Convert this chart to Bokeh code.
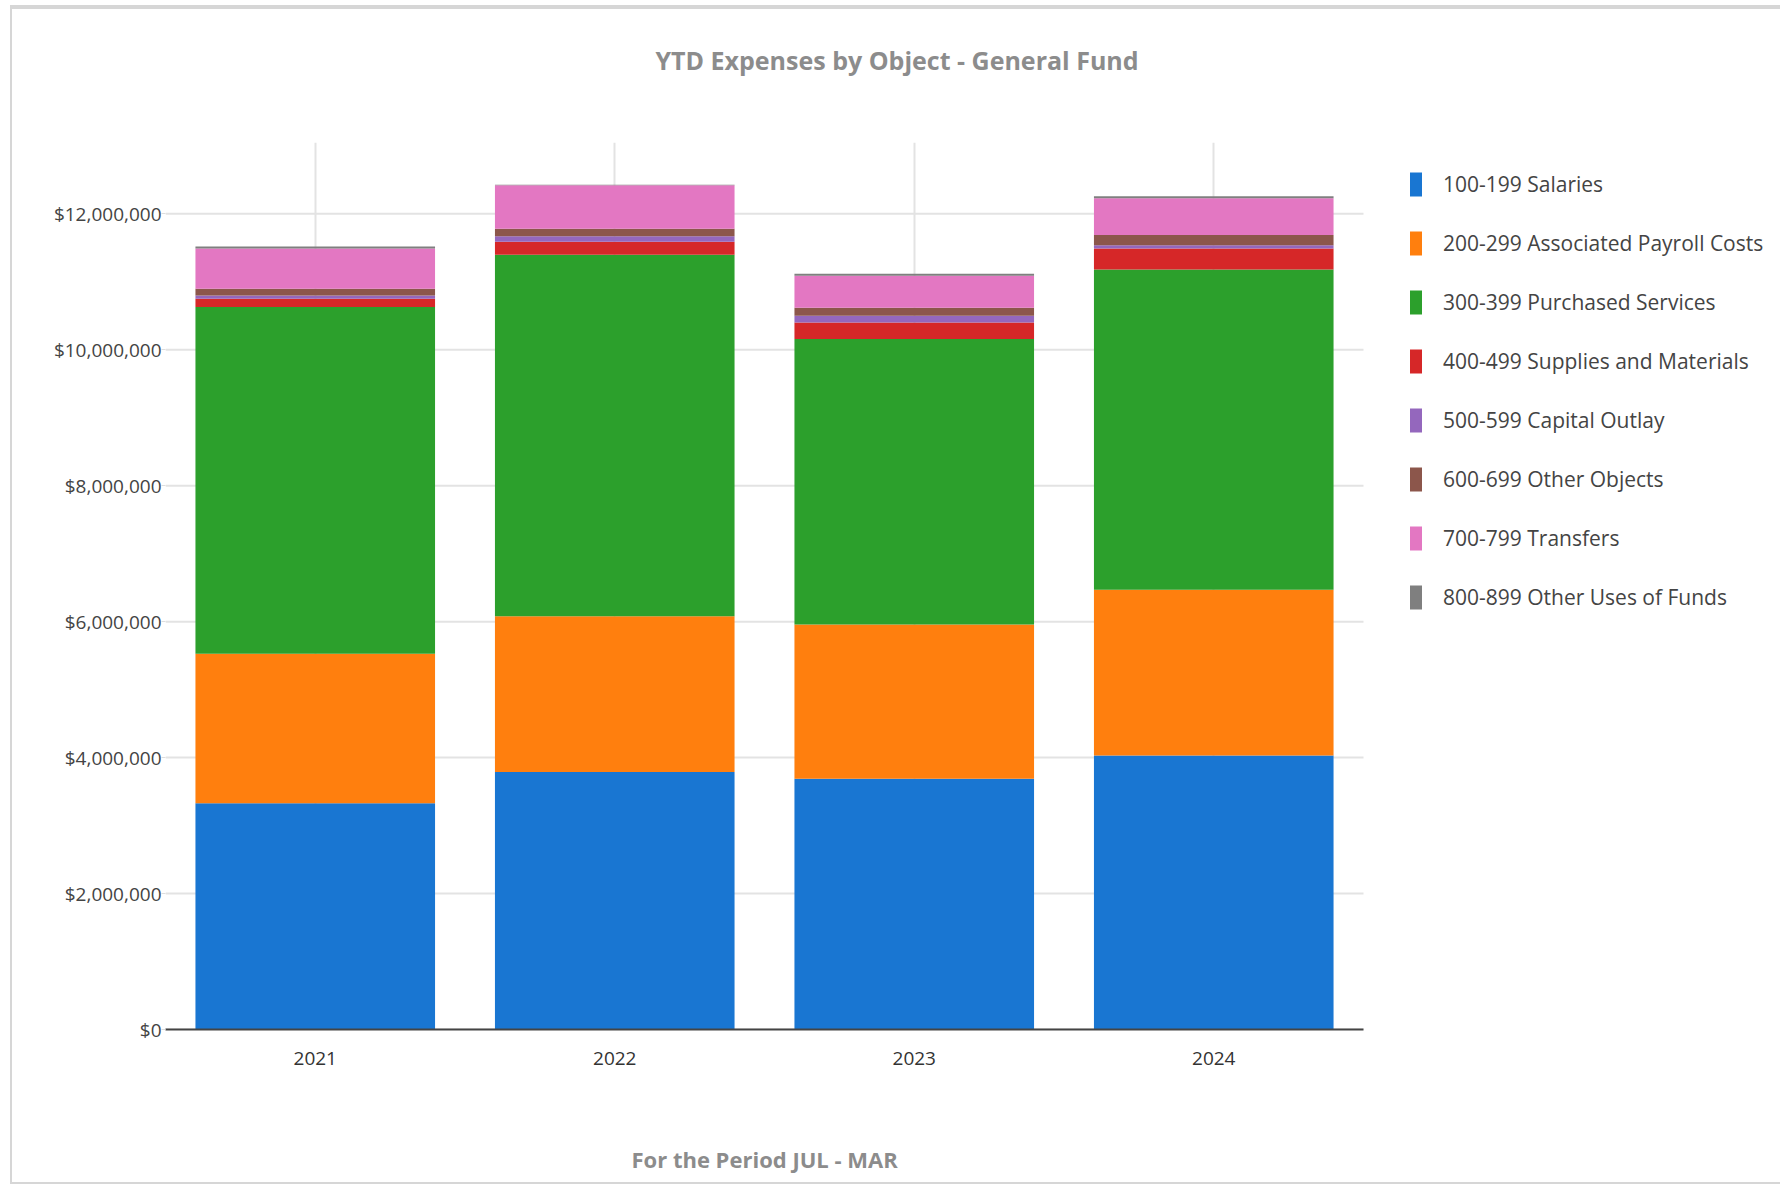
from bokeh.plotting import figure
from bokeh.models import (ColumnDataSource, Range1d, FixedTicker, Title,
                          NumeralTickFormatter, Legend, LegendItem)
from bokeh.embed import file_html
from bokeh.resources import INLINE

years = ["2021", "2022", "2023", "2024"]
series_names = ["100-199 Salaries", "200-299 Associated Payroll Costs",
                "300-399 Purchased Services", "400-499 Supplies and Materials",
                "500-599 Capital Outlay", "600-699 Other Objects",
                "700-799 Transfers", "800-899 Other Uses of Funds"]
salaries = [3330000, 3790000, 3690000, 4030000]
payroll = [2200000, 2290000, 2270000, 2440000]
purchased = [5100000, 5320000, 4200000, 4710000]
supplies = [120000, 190000, 240000, 310000]
capital = [50000, 80000, 100000, 50000]
other_objects = [100000, 110000, 120000, 150000]
transfers = [590000, 640000, 470000, 540000]
other_uses = [30000, 10000, 30000, 30000]
y_ticks = [0, 2000000, 4000000, 6000000, 8000000, 10000000, 12000000]
title_text = "YTD Expenses by Object - General Fund"
xlabel_text = "For the Period JUL - MAR"

colors = ["#1976d2", "#ff7f0e", "#2ca02c", "#d62728", "#9467bd",
          "#8c564b", "#e377c2", "#7f7f7f"]
keys = ["s1", "s2", "s3", "s4", "s5", "s6", "s7", "s8"]
values = [salaries, payroll, purchased, supplies, capital, other_objects,
          transfers, other_uses]
xpos = [i + 0.5 for i in range(len(years))]
data = {"x": xpos, "year": years}
for k, v in zip(keys, values):
    data[k] = v
source = ColumnDataSource(data)

FONT = "Open Sans"
GRID = "#e3e3e3"

W, H = 1770, 1179
MB_LEFT, MB_TOP, MB_BOTTOM = 153, 133, 159
BAR_AREA_PX = 1198          # pixel width occupied by the four categories
frame_w = W - MB_LEFT
x_end = len(years) * frame_w / BAR_AREA_PX

p = figure(width=W, height=H, title=None,
           x_range=Range1d(0, x_end), y_range=Range1d(0, 13050000),
           output_backend="svg", toolbar_location=None,
           min_border_left=MB_LEFT, min_border_right=0,
           min_border_top=MB_TOP, min_border_bottom=MB_BOTTOM)
p.outline_line_color = None
p.background_fill_color = "white"
p.border_fill_color = "white"

# title (spacer keeps it above the plot area)
p.add_layout(Title(text=" ", text_font=FONT, text_font_size="25px", standoff=30), "above")
p.add_layout(Title(text=title_text, align="left", offset=490, standoff=0,
                   text_font=FONT, text_font_size="25px", text_font_style="bold",
                   text_color="#8c8c8c"), "above")

# horizontal grid lines limited to the category area
p.segment(x0=0, x1=len(years), y0=y_ticks, y1=y_ticks, line_color=GRID,
          line_width=2, level="underlay")

renderers = p.vbar_stack(keys, x="x", width=0.8, color=colors,
                         line_color=None, source=source)

p.yaxis.ticker = FixedTicker(ticks=y_ticks)
p.yaxis.formatter = NumeralTickFormatter(format="$0,0")
p.yaxis.axis_line_color = None
p.yaxis.major_tick_line_color = "#dddddd"
p.yaxis.major_tick_out = 4
p.yaxis.major_tick_in = 0
p.yaxis.minor_tick_line_color = None
p.yaxis.major_label_standoff = 0
p.yaxis.major_label_text_font = FONT
p.yaxis.major_label_text_font_size = "19px"
p.yaxis.major_label_text_color = "#444444"

p.xaxis.ticker = FixedTicker(ticks=xpos)
p.xaxis.major_label_overrides = {x: y for x, y in zip(xpos, years)}
p.xaxis.bounds = (0, len(years))
p.xaxis.axis_line_color = "#444444"
p.xaxis.axis_line_width = 2
p.xaxis.major_tick_line_color = None
p.xaxis.major_tick_out = 0
p.xaxis.major_tick_in = 0
p.xaxis.minor_tick_line_color = None
p.xaxis.major_label_standoff = 22
p.xaxis.major_label_text_font = FONT
p.xaxis.major_label_text_font_size = "19px"
p.xaxis.major_label_text_color = "#333333"

# x-axis title, centred under the category area
p.add_layout(Title(text=" ", text_font=FONT, text_font_size="22px", standoff=42), "below")
p.add_layout(Title(text=xlabel_text, align="left", offset=466, standoff=0,
                   text_font=FONT, text_font_size="22px", text_font_style="bold",
                   text_color="#8c8c8c"), "below")

p.ygrid.visible = False
p.xgrid.grid_line_color = GRID
p.xgrid.grid_line_width = 2

items = [LegendItem(label=n, renderers=[r]) for n, r in zip(series_names, renderers)]
legend = Legend(items=items, location=(1243, 417), orientation="vertical",
                glyph_width=15, glyph_height=30, label_height=30, spacing=29,
                label_standoff=20, padding=0, margin=0,
                border_line_color=None, background_fill_alpha=0,
                label_text_font=FONT, label_text_font_size="21px",
                label_text_color="#444444")
p.add_layout(legend, "center")

p.styles = {"margin-top": "5px", "margin-left": "10px", "overflow": "hidden",
            "border-top": "4px solid #d6d6d6", "border-left": "2px solid #d6d6d6",
            "border-bottom": "2px solid #d6d6d6"}

open("out.html", "w").write(file_html(p, INLINE))
